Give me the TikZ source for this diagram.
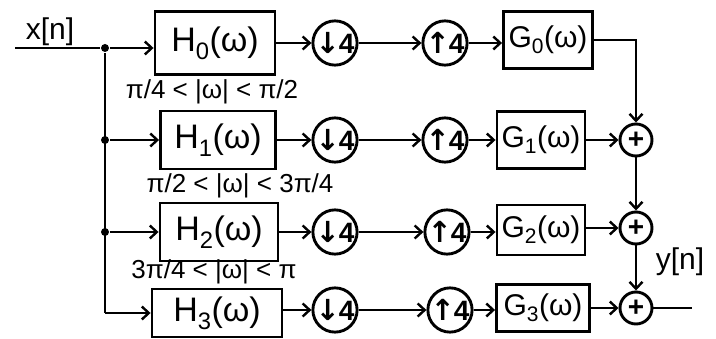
\documentclass[tikz,border=0pt]{standalone}
\usepackage{fontspec}
\setmainfont{Liberation Sans}
\newfontfamily\arrowfont{DejaVu Sans}
\usetikzlibrary{arrows.meta}
\newcommand{\dn}{{\arrowfont\bfseries\fontsize{29}{29}\selectfont\char"2193}\kern-1pt}
\newcommand{\upa}{{\arrowfont\bfseries\fontsize{29}{29}\selectfont\char"2191}\kern-1pt}
\begin{document}
\begin{tikzpicture}[x=1pt,y=-1pt,line width=2.9pt,
  every node/.style={inner sep=0pt},
  flow/.style={-{Straight Barb[length=7pt,width=13pt,line width=2.4pt]}},
  hbox/.style={draw,rectangle,font=\fontsize{34}{38}\selectfont},
  gbox/.style={draw,rectangle,font=\fontsize{30}{32}\selectfont},
  rate/.style={draw,circle,minimum size=40pt,font=\fontsize{28}{28}\selectfont\bfseries},
  adder/.style={draw,circle,minimum size=32pt,font=\fontsize{28}{28}\selectfont\bfseries},
  band/.style={font=\fontsize{26}{28}\selectfont},
  sig/.style={font=\fontsize{30}{32}\selectfont},
  dot/.style={circle,fill,minimum size=8pt}]
\useasboundingbox (0,0) rectangle (716,339);
% input
\node[sig] (x) at (50,32) {x[n]};
\coordinate (in) at (15,48);
\node[dot] (j0) at (105,48) {};
\node[dot] (j1) at (105,140) {};
\node[dot] (j2) at (105,232) {};
\coordinate (j3) at (105,313);
% analysis filters
\node[hbox,minimum width=120pt,minimum height=63pt] (h0) at (215,43) {H\textsubscript{0}(ω)};
\node[hbox,minimum width=115pt,minimum height=58pt] (h1) at (218,140) {H\textsubscript{1}(ω)};
\node[hbox,minimum width=118pt,minimum height=58pt] (h2) at (219,232) {H\textsubscript{2}(ω)};
\node[hbox,minimum width=130pt,minimum height=48pt] (h3) at (217,313) {H\textsubscript{3}(ω)};
% band labels
\node[band] (b1) at (212,92) {π/4 < |ω| < π/2};
\node[band] (b2) at (240,186) {π/2 < |ω| < 3π/4};
\node[band] (b3) at (214,272) {3π/4 < |ω| < π};
% decimators
\node[rate] (d0) at (335,43) {\dn4};
\node[rate] (d1) at (335,140) {\dn4};
\node[rate] (d2) at (335,232) {\dn4};
\node[rate] (d3) at (335,310) {\dn4};
% expanders
\node[rate,minimum size=38pt] (u0) at (445,43) {\upa4};
\node[rate,minimum size=38pt] (u1) at (445,140) {\upa4};
\node[rate,minimum size=38pt] (u2) at (447,232) {\upa4};
\node[rate,minimum size=38pt] (u3) at (450,310) {\upa4};
% synthesis filters
\node[gbox,minimum width=89pt,minimum height=57pt] (g0) at (548,40) {G\textsubscript{0}(ω)};
\node[gbox,minimum width=88pt,minimum height=57pt] (g1) at (541,140) {G\textsubscript{1}(ω)};
\node[gbox,minimum width=88pt,minimum height=50pt] (g2) at (541,230) {G\textsubscript{2}(ω)};
\node[gbox,minimum width=93pt,minimum height=47pt] (g3) at (543,308) {G\textsubscript{3}(ω)};
% adders
\node[adder] (p1) at (636,140) {+};
\node[adder] (p2) at (636,228) {+};
\node[adder] (p3) at (636,308) {+};
\coordinate (c0) at (636,40);
\coordinate (out) at (692,308);
\node[sig] (y) at (680,262) {y[n]};
% connectors
\draw (in) -- (j0);
\draw (j0) -- (j3);
\draw[flow] (j0) -- (h0.west |- j0);
\draw[flow] (j1) -- (h1.west |- j1);
\draw[flow] (j2) -- (h2.west |- j2);
\draw[flow] (j3) -- (h3.west |- j3);
\foreach \i in {0,1,2,3}{
  \draw[flow] (h\i.east |- d\i) -- (d\i.west);
  \draw[flow] (d\i.east) -- (u\i.west);
  \draw[flow] (u\i.east) -- (g\i.west |- u\i);
}
\draw[flow] (g0.east |- c0) -- (c0) -- (p1.north);
\draw[flow] (g1.east |- p1) -- (p1.west);
\draw[flow] (g2.east |- p2) -- (p2.west);
\draw[flow] (g3.east |- p3) -- (p3.west);
\draw[flow] (p1.south) -- (p2.north);
\draw[flow] (p2.south) -- (p3.north);
\draw (p3.east) -- (out);
\end{tikzpicture}
\end{document}
